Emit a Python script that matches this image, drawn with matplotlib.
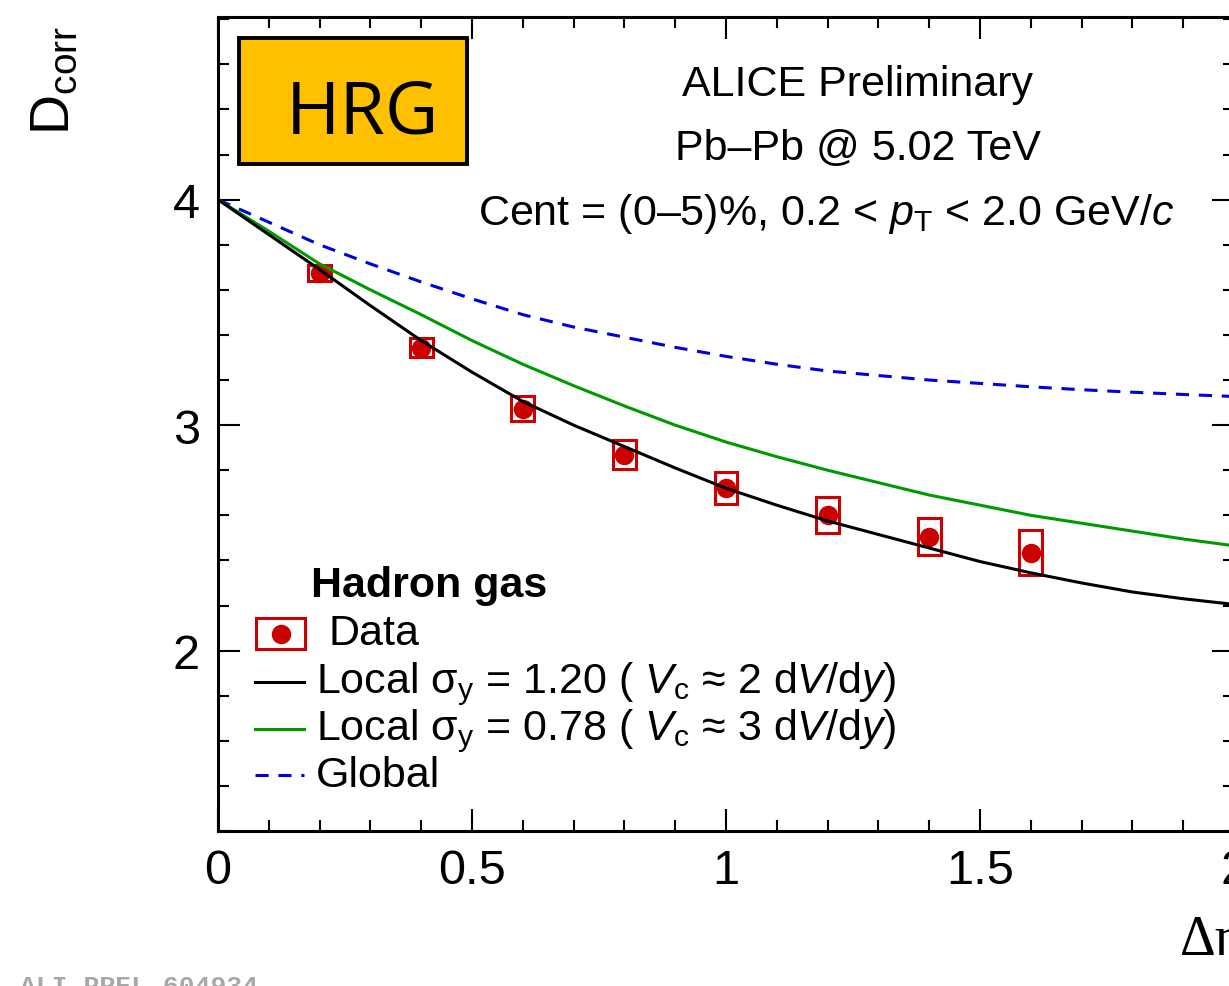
import matplotlib
matplotlib.use('Agg')
import matplotlib.pyplot as plt
from matplotlib.lines import Line2D
from matplotlib.patches import Rectangle
from matplotlib.ticker import MultipleLocator

plt.rcParams['font.family'] = ['Liberation Sans', 'DejaVu Sans']
plt.rcParams['mathtext.fontset'] = 'custom'
plt.rcParams['mathtext.rm'] = 'Liberation Sans'
plt.rcParams['mathtext.it'] = 'Liberation Sans:italic'
plt.rcParams['mathtext.bf'] = 'Liberation Sans:bold'

# datos medidos
eta_data = [0.2, 0.4, 0.6, 0.8, 1.0, 1.2, 1.4, 1.6]
d_data = [3.676, 3.344, 3.073, 2.869, 2.723, 2.603, 2.506, 2.435]
d_sys = [0.035, 0.042, 0.055, 0.064, 0.071, 0.080, 0.084, 0.098]

# curvas del modelo
eta_curve = [0.0, 0.1, 0.2, 0.3, 0.4, 0.5, 0.6, 0.7, 0.8, 0.9, 1.0,
             1.1, 1.2, 1.3, 1.4, 1.5, 1.6, 1.7, 1.8, 1.9, 2.0]
d_local_120 = [4.00, 3.845, 3.69, 3.53, 3.375, 3.235, 3.105, 3.00, 2.905, 2.81, 2.72,
               2.645, 2.575, 2.515, 2.455, 2.395, 2.345, 2.30, 2.26, 2.23, 2.205]
d_local_078 = [4.00, 3.86, 3.715, 3.60, 3.49, 3.375, 3.27, 3.175, 3.085, 3.00, 2.925,
               2.86, 2.80, 2.745, 2.69, 2.645, 2.60, 2.565, 2.53, 2.495, 2.465]
d_global = [4.00, 3.90, 3.80, 3.715, 3.635, 3.56, 3.49, 3.435, 3.39, 3.345, 3.305,
            3.27, 3.24, 3.22, 3.20, 3.185, 3.17, 3.157, 3.146, 3.136, 3.127]

rojo = '#cc0000'
verde = '#009a00'
azul = '#0000dd'

W, H = 1229, 987
fig = plt.figure(figsize=(W / 100, H / 100), dpi=100)


def fx(px):
    return px / W


def fy(py):
    return 1 - py / H


ax = fig.add_axes([fx(218), fy(832), fx(1234) - fx(218), fy(18) - fy(832)])
ax.set_xlim(0, 2)
ax.set_ylim(1.2, 4.81)

# cajas sistematicas
half_w = 0.0226
ax.bar(eta_data, [2 * e for e in d_sys], bottom=[y - e for y, e in zip(d_data, d_sys)],
       width=2 * half_w, fill=False, edgecolor=rojo, linewidth=2.2, zorder=2)
ax.plot(eta_data, d_data, 'o', color=rojo, markersize=13, zorder=3)

ax.plot(eta_curve, d_global, color=azul, lw=2.2, dashes=(4.3, 3.2), zorder=4)
ax.plot(eta_curve, d_local_078, color=verde, lw=2.2, zorder=4)
ax.plot(eta_curve, d_local_120, color='black', lw=2.2, zorder=5)

ax.xaxis.set_major_locator(MultipleLocator(0.5))
ax.xaxis.set_minor_locator(MultipleLocator(0.1))
ax.yaxis.set_major_locator(MultipleLocator(1))
ax.yaxis.set_minor_locator(MultipleLocator(0.2))
ax.xaxis.set_major_formatter(plt.FuncFormatter(lambda v, p: f'{v:g}'))
ax.yaxis.set_major_formatter(plt.FuncFormatter(lambda v, p: f'{v:g}'))
ax.tick_params(which='both', direction='in', top=True, right=True, width=1.5)
ax.tick_params(which='major', length=16, labelsize=35)
ax.tick_params(which='minor', length=8)
ax.tick_params(axis='x', which='major', pad=12)
ax.tick_params(axis='y', which='major', pad=13)
for s in ax.spines.values():
    s.set_linewidth(2.2)

# etiquetas de los ejes
fig.text(fx(55), fy(81), r'D$_{\mathrm{corr}}$', rotation=90, ha='center', va='center', fontsize=40)
fig.text(fx(1180), fy(955), 'Δη', ha='left', va='baseline', fontsize=40, family='Liberation Serif')

# caja HRG
fig.add_artist(Rectangle((fx(239), fy(165)), fx(467) - fx(239), fy(39) - fy(165),
                         transform=fig.transFigure, facecolor='#ffc000', edgecolor='black', lw=2.8))
fig.text(fx(362), fy(114), 'HRG', ha='center', va='center', fontsize=53, family='Open Sans')

# cabecera
fig.text(fx(858), fy(96), 'ALICE Preliminary', ha='center', va='baseline', fontsize=31)
fig.text(fx(858), fy(160), 'Pb–Pb @ 5.02 TeV', ha='center', va='baseline', fontsize=31)
fig.text(fx(826), fy(225), r'Cent = (0–5)%, 0.2 < $p_{\mathrm{T}}$ < 2.0 GeV/$c$',
         ha='center', va='baseline', fontsize=31)

# leyenda
fig.text(fx(311), fy(597), 'Hadron gas', ha='left', va='baseline', fontsize=31, weight='bold')
fig.add_artist(Rectangle((fx(256), fy(650)), fx(305) - fx(256), fy(619) - fy(650),
                         transform=fig.transFigure, fill=False, edgecolor=rojo, lw=2.2))
fig.add_artist(Line2D([fx(281)], [fy(635)], marker='o', color=rojo, markersize=13,
                      transform=fig.transFigure))
fig.text(fx(328), fy(645), 'Data', ha='left', va='baseline', fontsize=31)
fig.add_artist(Line2D([fx(255), fx(304)], [fy(683), fy(683)], color='black', lw=2.2,
                      transform=fig.transFigure))
fig.text(fx(316), fy(693), r'Local σ$_{\mathrm{y}}$ = 1.20 ( $V_{\mathrm{c}}$ ≈ 2 d$V$/d$y$)',
         ha='left', va='baseline', fontsize=31)
fig.add_artist(Line2D([fx(255), fx(304)], [fy(730), fy(730)], color=verde, lw=2.2,
                      transform=fig.transFigure))
fig.text(fx(316), fy(740), r'Local σ$_{\mathrm{y}}$ = 0.78 ( $V_{\mathrm{c}}$ ≈ 3 d$V$/d$y$)',
         ha='left', va='baseline', fontsize=31)
fig.add_artist(Line2D([fx(255), fx(304)], [fy(776), fy(776)], color=azul, lw=2.2,
                      dashes=(4.3, 3.2), transform=fig.transFigure))
fig.text(fx(316), fy(787), 'Global', ha='left', va='baseline', fontsize=31)

fig.text(fx(20), fy(975), 'ALI-PREL-604934', ha='left', va='top', fontsize=19,
         family='Liberation Mono', weight='bold', color='#a8a8a8')

fig.savefig('out.png', dpi=100)
